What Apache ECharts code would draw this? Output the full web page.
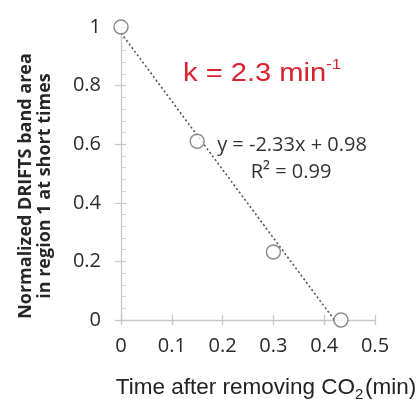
<!DOCTYPE html>
<html><head><meta charset="utf-8">
<script src="https://cdn.jsdelivr.net/npm/echarts@6/dist/echarts.min.js"></script>
<style>html,body{margin:0;padding:0;background:#fff}#c{width:420px;height:399px}</style>
</head><body><div id="c"></div>
<script>
// Data
const timeMin = [0, 0.15, 0.30, 0.433];
const normArea = [1.0, 0.61, 0.232, 0.0];
const fitX = [0, 0.42];
const fitY = [0.98, 0.0];
const xTicks = [0, 0.1, 0.2, 0.3, 0.4, 0.5];
const yTicks = [0, 0.2, 0.4, 0.6, 0.8, 1];

const chart = echarts.init(document.getElementById('c'), null, {renderer: 'canvas'});
const labelFont = 'Open Sans';
const axisGrey = '#c8c8c8';
const fmt = v => String(+v.toFixed(1));
chart.setOption({
  animation: false,
  backgroundColor: '#fff',
  grid: {left: 121, right: 45, top: 27, bottom: 79, containLabel: false},
  xAxis: [{
    type: 'value', min: xTicks[0], max: xTicks[xTicks.length - 1], interval: 0.1, position: 'bottom',
    axisLine: {show: true, lineStyle: {color: axisGrey, width: 1.3}},
    axisTick: {show: true, length: 5, lineStyle: {color: axisGrey, width: 1.3}},
    splitLine: {show: false},
    axisLabel: {color: '#2a2a2a', fontFamily: labelFont, fontSize: 20, margin: 16, formatter: fmt}
  }, {
    type: 'value', min: xTicks[0], max: xTicks[xTicks.length - 1], interval: 0.1, position: 'bottom', offset: 0,
    axisLine: {show: false},
    axisTick: {show: true, inside: true, length: 5, lineStyle: {color: axisGrey, width: 1.3}},
    splitLine: {show: false}, axisLabel: {show: false}
  }],
  yAxis: [{
    type: 'value', min: yTicks[0], max: yTicks[yTicks.length - 1], interval: 0.2, position: 'left',
    axisLine: {show: true, lineStyle: {color: axisGrey, width: 1.3}},
    axisTick: {show: true, length: 6, lineStyle: {color: axisGrey, width: 1.3}},
    splitLine: {show: false},
    axisLabel: {color: '#2a2a2a', fontFamily: labelFont, fontSize: 20, margin: 20, formatter: fmt}
  }, {
    type: 'value', min: yTicks[0], max: yTicks[yTicks.length - 1], interval: 0.2, position: 'left', offset: 0,
    axisLine: {show: false},
    axisTick: {show: true, inside: true, length: 5, lineStyle: {color: axisGrey, width: 1.3}},
    minorTick: {show: true, splitNumber: 5, length: 5, lineStyle: {color: '#d4d4d4', width: 1}},
    splitLine: {show: false}, axisLabel: {show: false}
  }],
  series: [
    {
      type: 'line', data: fitX.map((x, i) => [x, fitY[i]]),
      symbol: 'none', lineStyle: {color: '#555', width: 1.6, type: [2, 2.5]}, z: 2
    },
    {
      type: 'scatter', data: timeMin.map((x, i) => [x, normArea[i]]),
      symbol: 'circle', symbolSize: 14,
      itemStyle: {color: '#fff', borderColor: '#707070', borderWidth: 1.5}, z: 3
    }
  ],
  graphic: [
    {type: 'text', x: 183, y: 72, scaleX: 1.12, style: {
      text: '{n|k = 2.3 min}{s|-1}', textVerticalAlign: 'middle', textAlign: 'left',
      rich: {n: {fontFamily: 'Liberation Sans', fontSize: 26, fill: '#d7232f', lineHeight: 30, verticalAlign: 'bottom'},
             s: {fontFamily: 'Liberation Sans', fontSize: 15, fill: '#d7232f', lineHeight: 16, verticalAlign: 'top'}}}},
    {type: 'text', x: 292, y: 145, style: {
      text: 'y = -2.33x + 0.98', textAlign: 'center', textVerticalAlign: 'middle',
      fontFamily: labelFont, fontSize: 20, fill: '#333'}},
    {type: 'text', x: 291, y: 172, style: {
      text: 'R² = 0.99', textAlign: 'center', textVerticalAlign: 'middle',
      fontFamily: labelFont, fontSize: 20, fill: '#333'}},
    {type: 'text', x: 35, y: 186, rotation: Math.PI / 2, style: {
      text: 'Normalized DRIFTS band area\nin region 1 at short times', textAlign: 'center', textVerticalAlign: 'middle',
      fontFamily: labelFont, fontWeight: 'bold', fontSize: 18, lineHeight: 19, fill: '#262626'}},
    {type: 'text', x: 266, y: 389, style: {
      text: '{a|Time after removing CO}{b|2}{c| }{a|(min)}', textAlign: 'center', textVerticalAlign: 'middle',
      rich: {a: {fontFamily: 'Liberation Sans', fontSize: 22.5, fill: '#222', lineHeight: 26, verticalAlign: 'top'},
             b: {fontFamily: 'Liberation Sans', fontSize: 15, fill: '#222', lineHeight: 16, verticalAlign: 'bottom'},
             c: {fontFamily: 'Liberation Sans', fontSize: 6, lineHeight: 16, verticalAlign: 'bottom'}}}}
  ]
});
</script></body></html>
